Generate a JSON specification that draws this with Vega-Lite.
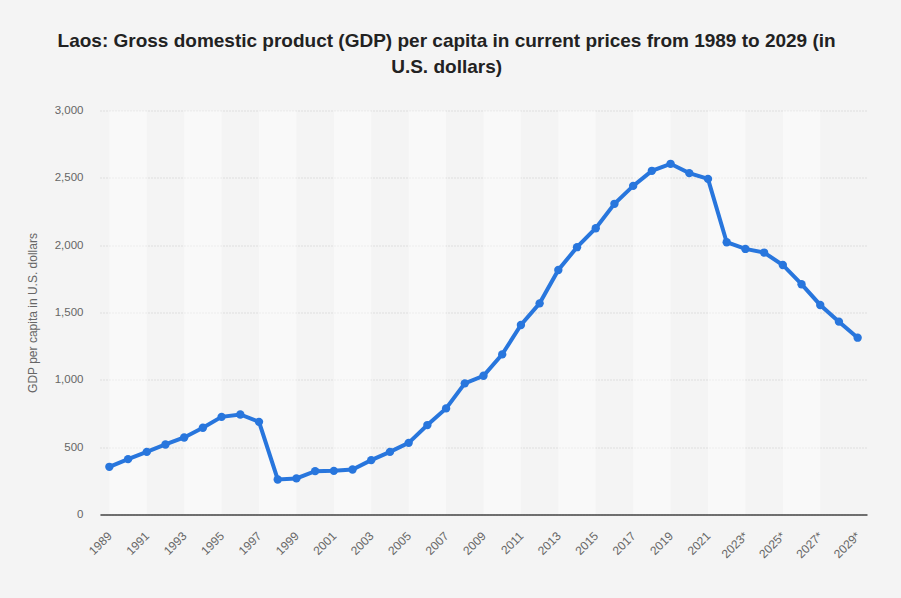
{
  "$schema": "https://vega.github.io/schema/vega-lite/v6.json",
  "autosize": "none",
  "width": 767,
  "height": 404,
  "padding": {"left": 100, "top": 110.5, "right": 34, "bottom": 83.5},
  "background": "#f4f4f4",
  "title": {
    "text": ["Laos: Gross domestic product (GDP) per capita in current prices from 1989 to 2029 (in", "U.S. dollars)"],
    "font": "Liberation Sans",
    "fontSize": 19,
    "fontWeight": "bold",
    "color": "#222222",
    "lineHeight": 26,
    "anchor": "middle",
    "frame": "bounds",
    "offset": 28
  },
  "config": {
    "view": {"stroke": null},
    "axis": {"labelFont": "Liberation Sans", "titleFont": "Liberation Sans"}
  },
  "datasets": {
    "bands": [
      {"start": 1989, "end": 1991},
      {"start": 1993, "end": 1995},
      {"start": 1997, "end": 1999},
      {"start": 2001, "end": 2003},
      {"start": 2005, "end": 2007},
      {"start": 2009, "end": 2011},
      {"start": 2013, "end": 2015},
      {"start": 2017, "end": 2019},
      {"start": 2021, "end": 2023},
      {"start": 2025, "end": 2027}
    ],
    "gdp": [
      {"year": 1989, "value": 354},
      {"year": 1990, "value": 411},
      {"year": 1991, "value": 465},
      {"year": 1992, "value": 520},
      {"year": 1993, "value": 572},
      {"year": 1994, "value": 644},
      {"year": 1995, "value": 725},
      {"year": 1996, "value": 743},
      {"year": 1997, "value": 688},
      {"year": 1998, "value": 260},
      {"year": 1999, "value": 268},
      {"year": 2000, "value": 322},
      {"year": 2001, "value": 324},
      {"year": 2002, "value": 334},
      {"year": 2003, "value": 404},
      {"year": 2004, "value": 465},
      {"year": 2005, "value": 532},
      {"year": 2006, "value": 664},
      {"year": 2007, "value": 788},
      {"year": 2008, "value": 974},
      {"year": 2009, "value": 1030},
      {"year": 2010, "value": 1189},
      {"year": 2011, "value": 1407},
      {"year": 2012, "value": 1568},
      {"year": 2013, "value": 1816},
      {"year": 2014, "value": 1985},
      {"year": 2015, "value": 2126},
      {"year": 2016, "value": 2307},
      {"year": 2017, "value": 2440},
      {"year": 2018, "value": 2552},
      {"year": 2019, "value": 2604},
      {"year": 2020, "value": 2535},
      {"year": 2021, "value": 2492},
      {"year": 2022, "value": 2022},
      {"year": 2023, "value": 1972},
      {"year": 2024, "value": 1945},
      {"year": 2025, "value": 1853},
      {"year": 2026, "value": 1710},
      {"year": 2027, "value": 1556},
      {"year": 2028, "value": 1432},
      {"year": 2029, "value": 1313}
    ]
  },
  "layer": [
    {
      "data": {"name": "bands"},
      "mark": {"type": "rect", "color": "#ffffff", "opacity": 0.45},
      "encoding": {
        "x": {
          "field": "start", "type": "quantitative",
          "scale": {"domain": [1988.5, 2029.5], "nice": false, "zero": false},
          "axis": {
            "title": null,
            "values": [1989, 1991, 1993, 1995, 1997, 1999, 2001, 2003, 2005, 2007, 2009, 2011, 2013, 2015, 2017, 2019, 2021, 2023, 2025, 2027, 2029],
            "labelExpr": "datum.value >= 2023 ? datum.value + '*' : '' + datum.value",
            "labelAngle": -45,
            "labelAlign": "right",
            "labelBaseline": "middle",
            "labelFontSize": 12,
            "labelColor": "#666666",
            "labelPadding": 19,
            "labelOverlap": false,
            "labelBound": false,
            "ticks": false,
            "grid": false,
            "domainColor": "#444444",
            "domainWidth": 1.5,
            "zindex": 1
          }
        },
        "x2": {"field": "end"}
      }
    },
    {
      "data": {"name": "gdp"},
      "mark": {"type": "line", "color": "#2876dd", "strokeWidth": 4, "point": {"filled": true, "size": 70, "color": "#2876dd"}},
      "encoding": {
        "x": {
          "field": "year",
          "type": "quantitative",
          "scale": {"domain": [1988.5, 2029.5], "nice": false, "zero": false},
          "axis": {
            "title": null,
            "values": [1989, 1991, 1993, 1995, 1997, 1999, 2001, 2003, 2005, 2007, 2009, 2011, 2013, 2015, 2017, 2019, 2021, 2023, 2025, 2027, 2029],
            "labelExpr": "datum.value >= 2023 ? datum.value + '*' : '' + datum.value",
            "labelAngle": -45,
            "labelAlign": "right",
            "labelBaseline": "middle",
            "labelFontSize": 12,
            "labelColor": "#666666",
            "labelPadding": 19,
            "labelOverlap": false,
            "labelBound": false,
            "ticks": false,
            "grid": false,
            "domainColor": "#444444",
            "domainWidth": 1.5,
            "zindex": 1
          }
        },
        "y": {
          "field": "value",
          "type": "quantitative",
          "scale": {"domain": [0, 3000], "nice": false},
          "axis": {
            "title": "GDP per capita in U.S. dollars",
            "titleFontSize": 12,
            "titleFontWeight": "normal",
            "titleColor": "#666666",
            "titlePadding": 15,
            "values": [0, 500, 1000, 1500, 2000, 2500, 3000],
            "format": ",d",
            "labelFontSize": 11.5,
            "labelColor": "#666666",
            "labelPadding": 17,
            "ticks": false,
            "domain": false,
            "grid": true,
            "gridColor": "#c8c8c8",
            "gridDash": [1, 2],
            "gridWidth": 1
          }
        }
      }
    }
  ]
}
